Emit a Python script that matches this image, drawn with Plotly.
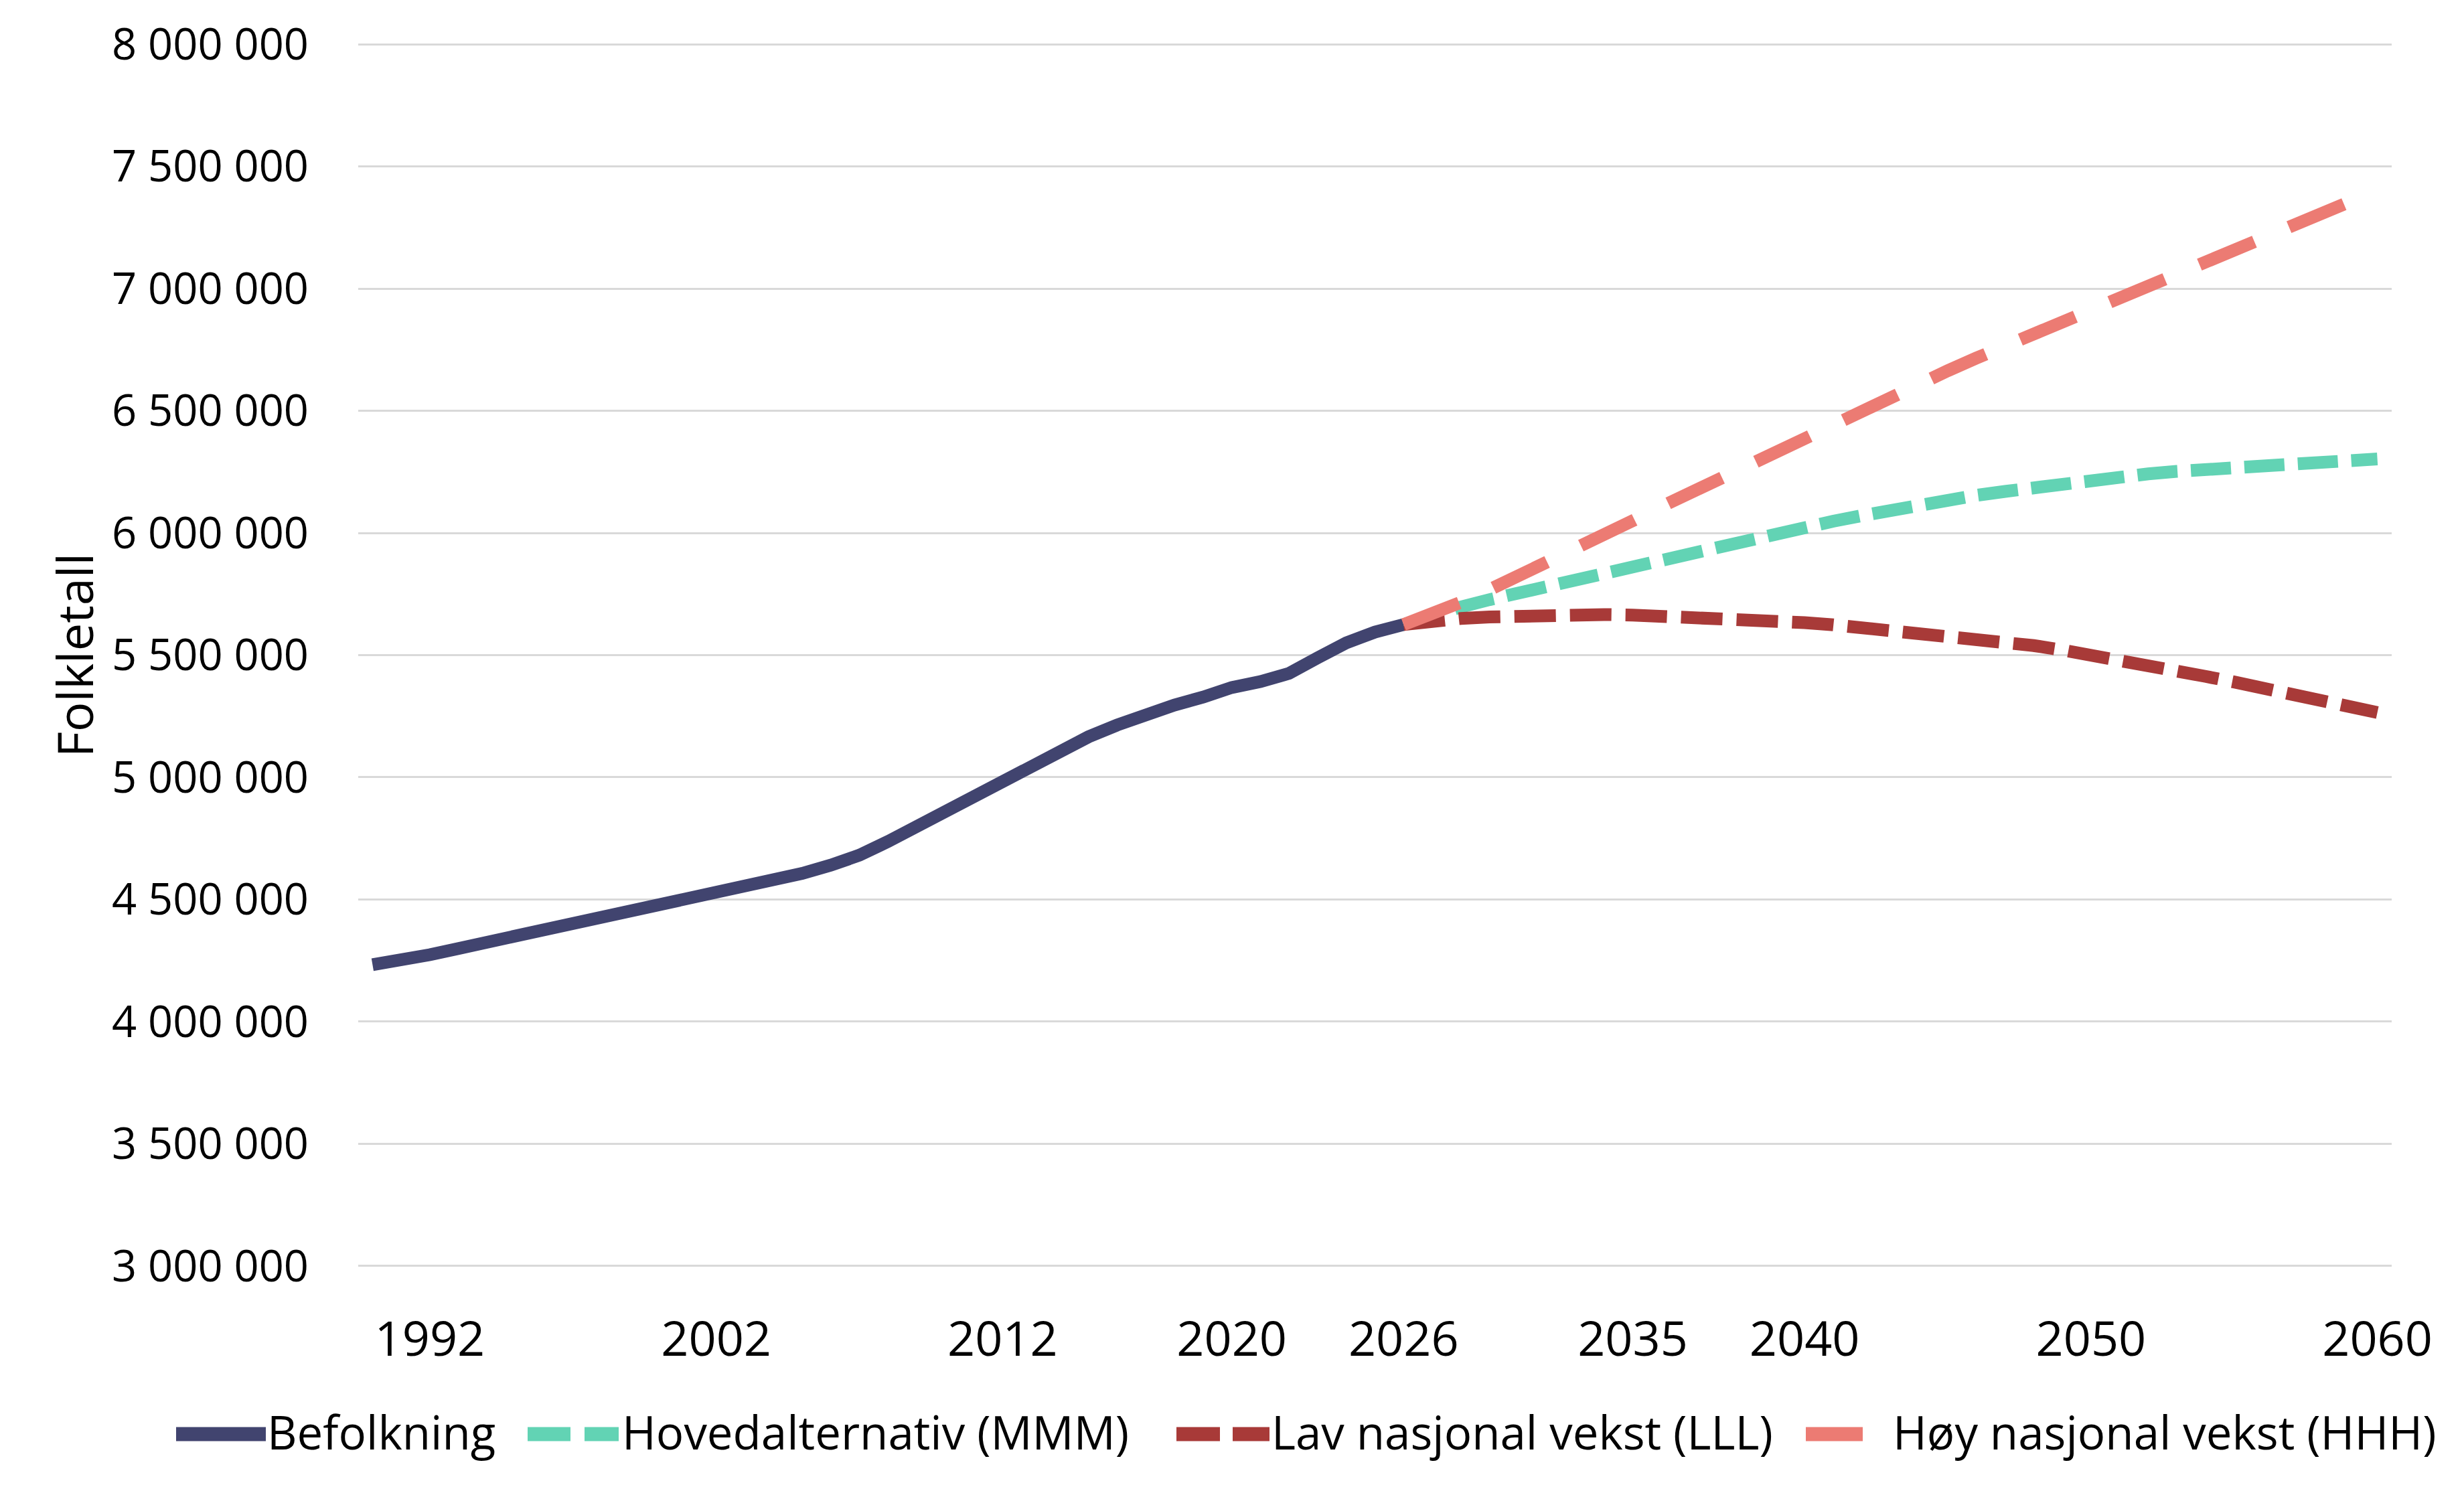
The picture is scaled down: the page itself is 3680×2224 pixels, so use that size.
import plotly.graph_objects as go

# ---------------- data ----------------
hist_years = list(range(1990, 2027))
befolkning = [4233116, 4249830, 4273634, 4299167, 4324815, 4348410, 4369957, 4392714,
              4417599, 4445329, 4478497, 4503436, 4524066, 4552252, 4577457, 4606363,
              4640219, 4681134, 4737171, 4799252, 4858199, 4920305, 4985870, 5051275,
              5109056, 5165802, 5213985, 5258317, 5295619, 5328212, 5367580, 5391369,
              5425270, 5488984, 5550203, 5594340, 5625000]

proj_years = list(range(2026, 2061))
mmm = [5625000, 5664000, 5697000, 5727000, 5754000, 5782000, 5810000, 5838000, 5867000,
       5896000, 5925000, 5951000, 5976000, 6001000, 6025000, 6048000, 6071000, 6094000,
       6116000, 6137000, 6154000, 6170000, 6187000, 6203000, 6218000, 6231000, 6242000,
       6252000, 6261000, 6270000, 6279000, 6287000, 6294000, 6299000, 6303000]
lll = [5625000, 5640000, 5650000, 5656000, 5661000, 5664000, 5666000, 5666000, 5664000,
       5661000, 5657000, 5652000, 5647000, 5641000, 5633000, 5624000, 5613000, 5601000,
       5589000, 5578000, 5566000, 5554000, 5539000, 5521000, 5502000, 5481000, 5459000,
       5436000, 5413000, 5390000, 5367000, 5343000, 5318000, 5292000, 5265000]
hhh = [5625000, 5668000, 5716000, 5768000, 5822000, 5879000, 5935000, 5992000, 6050000,
       6108000, 6165000, 6222000, 6279000, 6334000, 6389000, 6445000, 6500000, 6555000,
       6610000, 6664000, 6716000, 6766000, 6815000, 6863000, 6912000, 6962000, 7012000,
       7061000, 7110000, 7158000, 7207000, 7256000, 7305000, 7354000, 7403000]

series_names = ["Befolkning", "Hovedalternativ (MMM)", "Lav nasjonal vekst (LLL)",
                "Høy nasjonal vekst (HHH)"]

x_tick_vals = [1992, 2002, 2012, 2020, 2026, 2034, 2040, 2050, 2060]
x_tick_text = ["1992", "2002", "2012", "2020", "2026", "2035", "2040", "2050", "2060"]
y_tick_vals = [3000000, 3500000, 4000000, 4500000, 5000000, 5500000, 6000000,
               6500000, 7000000, 7500000, 8000000]

# ---------------- styling ----------------
FONT = "'Open Sans', sans-serif"
PAGE_PAD = 8                      # default body margin of the html page
W, H = 3680 - 2 * PAGE_PAD, 2224 - 2 * PAGE_PAD
ML, MR, MT, MB = 527, 100, 56, 323
PW, PH = W - ML - MR, H - MT - MB

colors = ["#41446f", "#62d3b4", "#a83a38", "#ec7b73"]
widths = [19, 19, 19, 19]
dashes = ["solid", "60px,20px", "62px,21px", "89px,56px"]

fig = go.Figure()
for xs, ys, name, c, w, d in zip([hist_years, proj_years, proj_years, proj_years],
                                 [befolkning, mmm, lll, hhh], series_names,
                                 colors, widths, dashes):
    fig.add_trace(go.Scatter(x=xs, y=ys, mode="lines", name=name, showlegend=False,
                             line=dict(color=c, width=w, dash=d)))


# ---------------- legend (drawn below the plot) ----------------
def px_x(X):
    return (X - PAGE_PAD - ML) / PW


def px_y(Y):
    return (H - MB - (Y - PAGE_PAD)) / PH


LEG_Y = 2142
leg_samples = [(263, 397, "solid"), (788, 924, "64px,21px"),
               (1757, 1896, "65px,19px"), (2697, 2782, "solid")]
leg_text_x = [398, 928, 1898, 2826]
for (x0, x1, d), c, tx, name in zip(leg_samples, colors, leg_text_x, series_names):
    fig.add_shape(type="line", xref="paper", yref="paper",
                  x0=px_x(x0), x1=px_x(x1), y0=px_y(LEG_Y), y1=px_y(LEG_Y),
                  line=dict(color=c, width=21, dash=d))
    fig.add_annotation(xref="paper", yref="paper", x=px_x(tx), y=px_y(LEG_Y - 4),
                       xanchor="left", yanchor="middle", showarrow=False, text=name,
                       font=dict(family=FONT, size=69, color="black"), borderpad=0)

fig.update_layout(
    width=W, height=H,
    margin=dict(l=ML, r=MR, t=MT, b=MB),
    paper_bgcolor="white", plot_bgcolor="white",
    separators=", ",
    font=dict(family=FONT, color="black", size=66),
    showlegend=False,
    xaxis=dict(range=[1989.5, 2060.5], tickmode="array", tickvals=x_tick_vals,
               ticktext=x_tick_text, showgrid=False, zeroline=False, showline=False,
               ticks="", ticklabelstandoff=59,
               tickfont=dict(family=FONT, size=72, color="black")),
    yaxis=dict(range=[2994000, 8006000], tickmode="array", tickvals=y_tick_vals,
               tickformat=",d", showgrid=True, gridcolor="#d9d9d9", gridwidth=3,
               zeroline=False, showline=False, ticks="", ticklabelstandoff=73,
               tickfont=dict(family=FONT, size=65, color="black"),
               title=dict(text="Folkletall", standoff=3,
                          font=dict(family=FONT, size=74, color="black"))),
)

fig.write_html("out.html")
